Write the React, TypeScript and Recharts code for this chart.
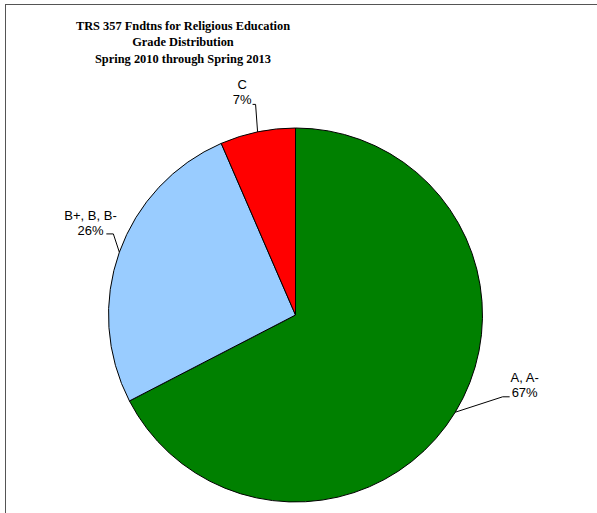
import { PieChart, Pie, Cell } from 'recharts';

const grades = ['A, A-', 'B+, B, B-', 'C'];
const shares = [67.4, 26.1, 6.5];
const sliceColors = ['#008000', '#99CCFF', '#FF0000'];
const titleLines = [
  'TRS 357 Fndtns for Religious Education',
  'Grade Distribution',
  'Spring 2010 through Spring 2013',
];

const chartData = grades.map((g, i) => ({ name: g, value: shares[i] }));

// leader elbow offset from the slice edge, short tail, text centre / baseline offset from elbow
const LABEL_LAYOUT = [
  { dx: 47.4, dy: -15.4, tail: 7, tx: 22, ty: 0.6 },
  { dx: -6, dy: -18.3, tail: -7, tx: -22.8, ty: 1 },
  { dx: -2, dy: -27.5, tail: -3, tx: -13.5, ty: 0 },
];

const RADIAN = Math.PI / 180;

function renderLabel(props: any) {
  const { cx, cy, midAngle, outerRadius, index, name, value } = props;
  const ex = cx + outerRadius * Math.cos(-midAngle * RADIAN);
  const ey = cy + outerRadius * Math.sin(-midAngle * RADIAN);
  const l = LABEL_LAYOUT[index];
  const bx = ex + l.dx;
  const by = ey + l.dy;
  const tx = bx + l.tx;
  const base = by + l.ty;
  return (
    <g key={`lbl-${index}`}>
      <polyline
        points={`${ex},${ey} ${bx},${by} ${bx + l.tail},${by}`}
        fill="none"
        stroke="#000"
        strokeWidth={1}
      />
      <text x={tx} y={base - 15} textAnchor="middle" fontSize={13} fill="#000" fontFamily="'Liberation Sans', Arial, sans-serif">
        {name}
      </text>
      <text x={tx} y={base} textAnchor="middle" fontSize={13} fill="#000" fontFamily="'Liberation Sans', Arial, sans-serif">
        {`${Math.round(value)}%`}
      </text>
    </g>
  );
}

export default function App() {
  return (
    <div style={{ position: 'absolute', left: 0, top: 0, width: 597, height: 513, background: '#fff', overflow: 'hidden' }}>
      <div
        style={{
          position: 'absolute',
          left: 5,
          top: 4,
          right: 0,
          bottom: 0,
          borderTop: '1.5px solid #555',
          borderLeft: '1.5px solid #555',
        }}
      />
      <div
        style={{
          position: 'absolute',
          left: 63,
          top: 17.5,
          width: 240,
          textAlign: 'center',
          fontFamily: "'Liberation Serif', 'Times New Roman', serif",
          fontWeight: 'bold',
          fontSize: 12.4,
          lineHeight: '16.5px',
          color: '#000',
        }}
      >
        {titleLines.map((t) => (
          <div key={t}>{t}</div>
        ))}
      </div>
      <PieChart width={597} height={513} margin={{ top: 0, right: 0, bottom: 0, left: 0 }}>
        <Pie
          data={chartData}
          dataKey="value"
          nameKey="name"
          cx={295.5}
          cy={315}
          outerRadius={187}
          startAngle={90}
          endAngle={-270}
          stroke="#000"
          strokeWidth={1}
          label={renderLabel}
          labelLine={false}
          isAnimationActive={false}
        >
          {chartData.map((d, i) => (
            <Cell key={d.name} fill={sliceColors[i]} />
          ))}
        </Pie>
      </PieChart>
    </div>
  );
}
